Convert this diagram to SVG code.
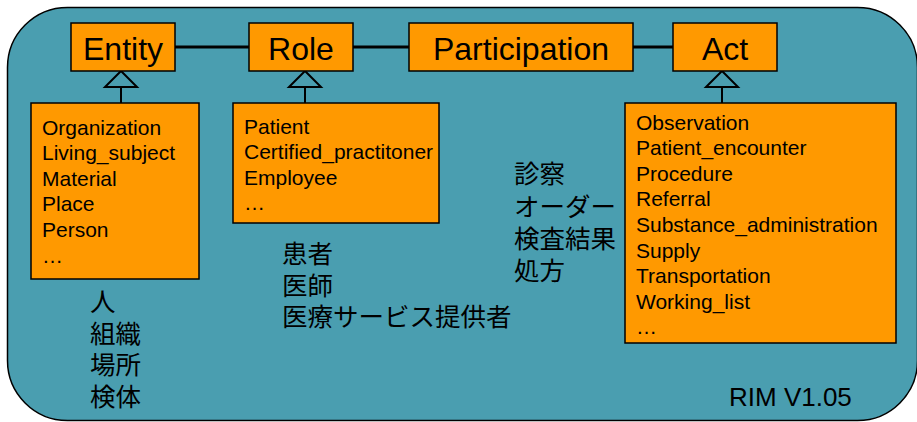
<svg xmlns="http://www.w3.org/2000/svg" width="917" height="422" viewBox="0 0 917 422">
<style>
.bg{fill:#4A9EB0;stroke:#000;stroke-width:1.5}
.box{fill:#FF9900;stroke:#000;stroke-width:1.5}
.title{font-family:"Liberation Sans",Arial,sans-serif;font-size:32px;fill:#000;text-anchor:middle}
.item{font-family:"Liberation Sans",Arial,sans-serif;font-size:21px;fill:#000}
.jp{font-family:"Noto Sans CJK JP",sans-serif;font-size:25.5px;fill:#000}
.assoc{stroke:#000;stroke-width:3;fill:none}
.gen{stroke:#000;stroke-width:2;fill:none}
.tri{stroke:#000;stroke-width:2;fill:#4A9EB0}
.rim{font-family:"Liberation Sans",Arial,sans-serif;font-size:26px;fill:#000}
</style>
<rect class="bg" x="7.5" y="7.5" width="910" height="413" rx="60" ry="60"/>
<g id="connectors">
<line class="assoc" x1="175" y1="47" x2="249" y2="47"/>
<line class="assoc" x1="353" y1="47" x2="409" y2="47"/>
<line class="assoc" x1="633" y1="47" x2="673" y2="47"/>
<line class="gen" x1="121" y1="87" x2="121" y2="103"/>
<polygon class="tri" points="121,71 105,87 137,87"/>
<line class="gen" x1="305" y1="87" x2="305" y2="103"/>
<polygon class="tri" points="305,71 289,87 321,87"/>
<line class="gen" x1="722" y1="87" x2="722" y2="103"/>
<polygon class="tri" points="722,71 706,87 738,87"/>
</g>
<g id="entity">
<rect class="box" x="71" y="23" width="104" height="48"/>
<text class="title" x="123" y="60">Entity</text>
</g>
<g id="role">
<rect class="box" x="249" y="23" width="104" height="48"/>
<text class="title" x="301" y="60">Role</text>
</g>
<g id="participation">
<rect class="box" x="409" y="23" width="224" height="48"/>
<text class="title" x="521" y="60">Participation</text>
</g>
<g id="act">
<rect class="box" x="673" y="23" width="104" height="48"/>
<text class="title" x="725" y="60">Act</text>
</g>
<g id="entity-list">
<rect class="box" x="31" y="103" width="168" height="176"/>
<text class="item" x="42" y="134.5">Organization</text>
<text class="item" x="42" y="160">Living_subject</text>
<text class="item" x="42" y="185.5">Material</text>
<text class="item" x="42" y="211">Place</text>
<text class="item" x="42" y="237">Person</text>
<text class="item" x="42" y="262.5">…</text>
</g>
<g id="role-list">
<rect class="box" x="233" y="103" width="206" height="120"/>
<text class="item" x="244" y="133.5">Patient</text>
<text class="item" x="244" y="159">Certified_practitoner</text>
<text class="item" x="244" y="184.5">Employee</text>
<text class="item" x="244" y="210">…</text>
</g>
<g id="act-list">
<rect class="box" x="625" y="103" width="271" height="240"/>
<text class="item" x="636" y="129.5">Observation</text>
<text class="item" x="636" y="155">Patient_encounter</text>
<text class="item" x="636" y="180.5">Procedure</text>
<text class="item" x="636" y="206">Referral</text>
<text class="item" x="636" y="231.5">Substance_administration</text>
<text class="item" x="636" y="257.5">Supply</text>
<text class="item" x="636" y="283">Transportation</text>
<text class="item" x="636" y="308.5">Working_list</text>
<text class="item" x="636" y="334">…</text>
</g>
<g id="entity-jp">
<text class="jp" x="90" y="311">人</text>
<text class="jp" x="90" y="343">組織</text>
<text class="jp" x="90" y="374">場所</text>
<text class="jp" x="90" y="406">検体</text>
</g>
<g id="role-jp">
<text class="jp" x="282" y="263">患者</text>
<text class="jp" x="282" y="295">医師</text>
<text class="jp" x="282" y="326">医療サービス提供者</text>
</g>
<g id="act-jp">
<text class="jp" x="514" y="183">診察</text>
<text class="jp" x="514" y="215.5">オーダー</text>
<text class="jp" x="514" y="248">検査結果</text>
<text class="jp" x="514" y="280">処方</text>
</g>
<text class="rim" x="729" y="405.5">RIM V1.05</text>
</svg>
